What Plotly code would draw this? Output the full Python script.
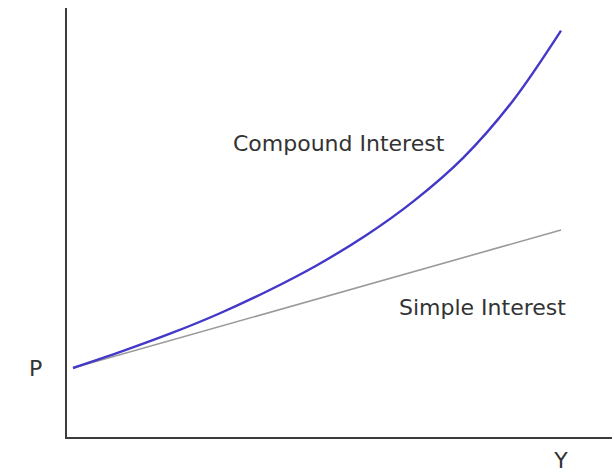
import plotly.graph_objects as go

# Growth of a principal P over time (value in currency units, P = 100)
years = [0, 1, 2, 3, 4, 5, 6, 7, 8, 9, 10]
compound_values = [100, 124, 150, 179, 212, 249, 292, 343, 405, 486, 589]
simple_years = [0, 10]
simple_values = [100, 300]

x_tick_vals = [10]
x_tick_text = ["Y"]
y_tick_vals = [100]
y_tick_text = ["P"]

text_font = dict(family="DejaVu Sans", size=22, color="#333333")

fig = go.Figure()
fig.add_trace(go.Scatter(
    x=simple_years, y=simple_values, mode="lines",
    line=dict(color="#9a9a9a", width=1.6), hoverinfo="skip",
))
fig.add_trace(go.Scatter(
    x=years, y=compound_values, mode="lines",
    line=dict(color="#4338c8", width=2.4, shape="spline", smoothing=1.0),
    hoverinfo="skip",
))

fig.add_annotation(x=5.45, y=426, text="Compound Interest", showarrow=False,
                   font=text_font, xanchor="center", yanchor="middle")
fig.add_annotation(x=8.4, y=187, text="Simple Interest", showarrow=False,
                   font=text_font, xanchor="center", yanchor="middle")

fig.update_layout(
    width=614, height=475,
    margin=dict(l=67, r=2, t=8, b=38),
    paper_bgcolor="white", plot_bgcolor="white",
    showlegend=False,
)
fig.update_xaxes(
    range=[-0.123, 11.045], showgrid=False, zeroline=False,
    showline=True, linecolor="#3c3c3c", linewidth=2.4,
    tickvals=x_tick_vals, ticktext=x_tick_text, ticks="",
    tickfont=text_font, ticklabelstandoff=2, automargin=False,
)
fig.update_yaxes(
    range=[0, 621.7], showgrid=False, zeroline=False,
    showline=True, linecolor="#3c3c3c", linewidth=2.4,
    tickvals=y_tick_vals, ticktext=y_tick_text, ticks="",
    tickfont=text_font, ticklabelstandoff=18, automargin=False,
)

fig.write_html("out.html")
